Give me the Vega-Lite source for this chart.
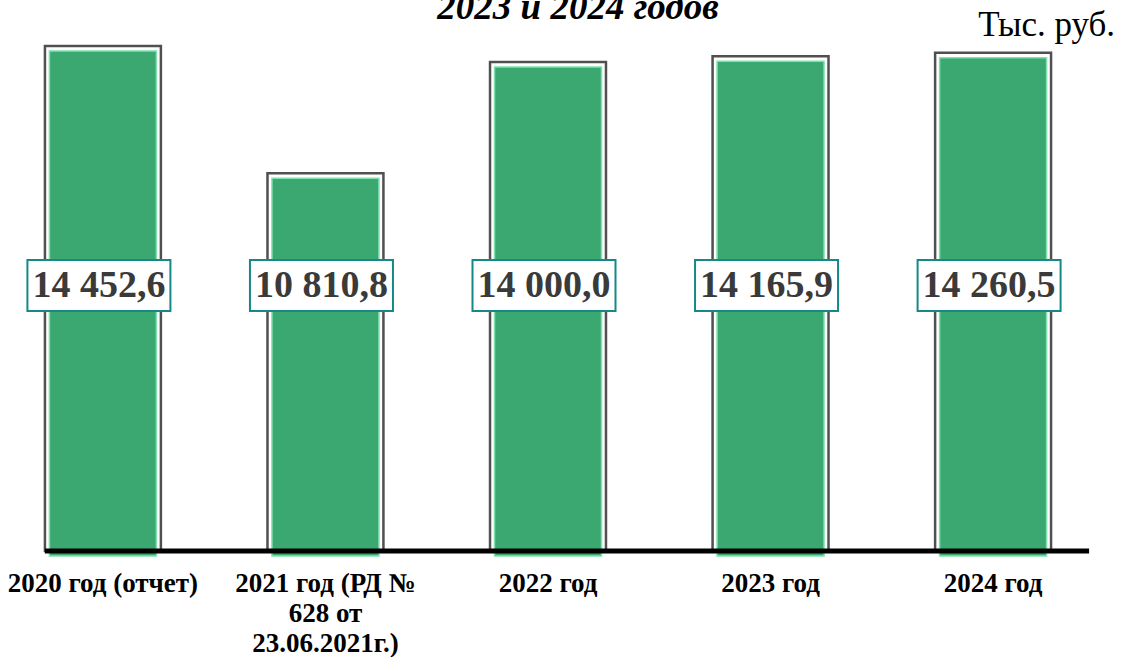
{
  "$schema": "https://vega.github.io/schema/vega-lite/v6.json",
  "width": 1076,
  "height": 524,
  "autosize": {"type": "none"},
  "padding": {"left": 10, "top": 27, "right": 38, "bottom": 106},
  "background": "white",
  "config": {
    "view": {"stroke": null},
    "locale": {"number": {"decimal": ",", "thousands": " ", "grouping": [3], "currency": ["", ""]}}
  },
  "data": {"values": [
    {"period": "2020 год (отчет)", "value": 14452.6},
    {"period": "2021 год (РД № 628 от 23.06.2021г.)", "value": 10810.8},
    {"period": "2022 год", "value": 14000.0},
    {"period": "2023 год", "value": 14165.9},
    {"period": "2024 год", "value": 14260.5}
  ]},
  "layer": [
    {
      "mark": {"type": "bar", "fill": "white", "stroke": "#505050", "strokeWidth": 2.5},
      "encoding": {
        "x": {"field": "period", "type": "nominal", "sort": null, "title": null,
          "scale": {"paddingInner": 0.479, "paddingOuter": 0.157},
          "axis": {"domain": false, "ticks": false, "labelAngle": 0, "labelFont": "Liberation Serif", "labelFontWeight": "bold", "labelFontSize": 27, "labelColor": "black", "labelPadding": 19, "labelLineHeight": 30, "labelLimit": 500, "labelOverlap": false,
            "labelExpr": "datum.label == '2021 год (РД № 628 от 23.06.2021г.)' ? ['2021 год (РД №', '628 от', '23.06.2021г.)'] : datum.label"}},
        "y": {"field": "value", "type": "quantitative", "scale": {"domain": [0, 15000], "nice": false}, "axis": null}
      }
    },
    {
      "mark": {"type": "bar", "fill": "#3AA870", "stroke": "#80E2AE", "strokeWidth": 1.5, "width": 107, "yOffset": 5},
      "encoding": {
        "x": {"field": "period", "type": "nominal", "sort": null, "title": null},
        "y": {"field": "value", "type": "quantitative"}
      }
    },
    {
      "mark": {"type": "bar", "fill": "white", "stroke": "#178787", "strokeWidth": 2, "width": 143, "xOffset": -4},
      "encoding": {
        "x": {"field": "period", "type": "nominal", "sort": null, "title": null},
        "y": {"datum": 8330},
        "y2": {"datum": 6870}
      }
    },
    {
      "mark": {"type": "text", "font": "Liberation Serif", "fontWeight": "bold", "fontSize": 38, "color": "#3a3a3a", "baseline": "middle", "xOffset": -4},
      "encoding": {
        "x": {"field": "period", "type": "nominal", "sort": null, "title": null},
        "y": {"datum": 7600},
        "text": {"field": "value", "type": "quantitative", "format": ",.1f"}
      }
    },
    {
      "data": {"values": [{}]},
      "mark": {"type": "rule", "color": "black", "strokeWidth": 5, "xOffset": -58, "x2Offset": 96},
      "encoding": {
        "x": {"datum": "2020 год (отчет)", "title": null},
        "x2": {"datum": "2024 год"},
        "y": {"datum": 0}
      }
    },
    {
      "data": {"values": [{"t": "2023 и 2024 годов"}]},
      "mark": {"type": "text", "font": "Liberation Serif", "fontWeight": "bold", "fontStyle": "italic", "fontSize": 37, "color": "black", "baseline": "alphabetic", "align": "center", "xOffset": 30, "clip": false},
      "encoding": {
        "x": {"datum": "2022 год", "title": null},
        "y": {"datum": 15229},
        "text": {"field": "t"}
      }
    },
    {
      "data": {"values": [{"t": "Тыс. руб."}]},
      "mark": {"type": "text", "font": "Liberation Serif", "fontSize": 35, "color": "black", "baseline": "alphabetic", "align": "right", "xOffset": 122, "clip": false},
      "encoding": {
        "x": {"datum": "2024 год", "title": null},
        "y": {"datum": 14742},
        "text": {"field": "t"}
      }
    }
  ]
}
